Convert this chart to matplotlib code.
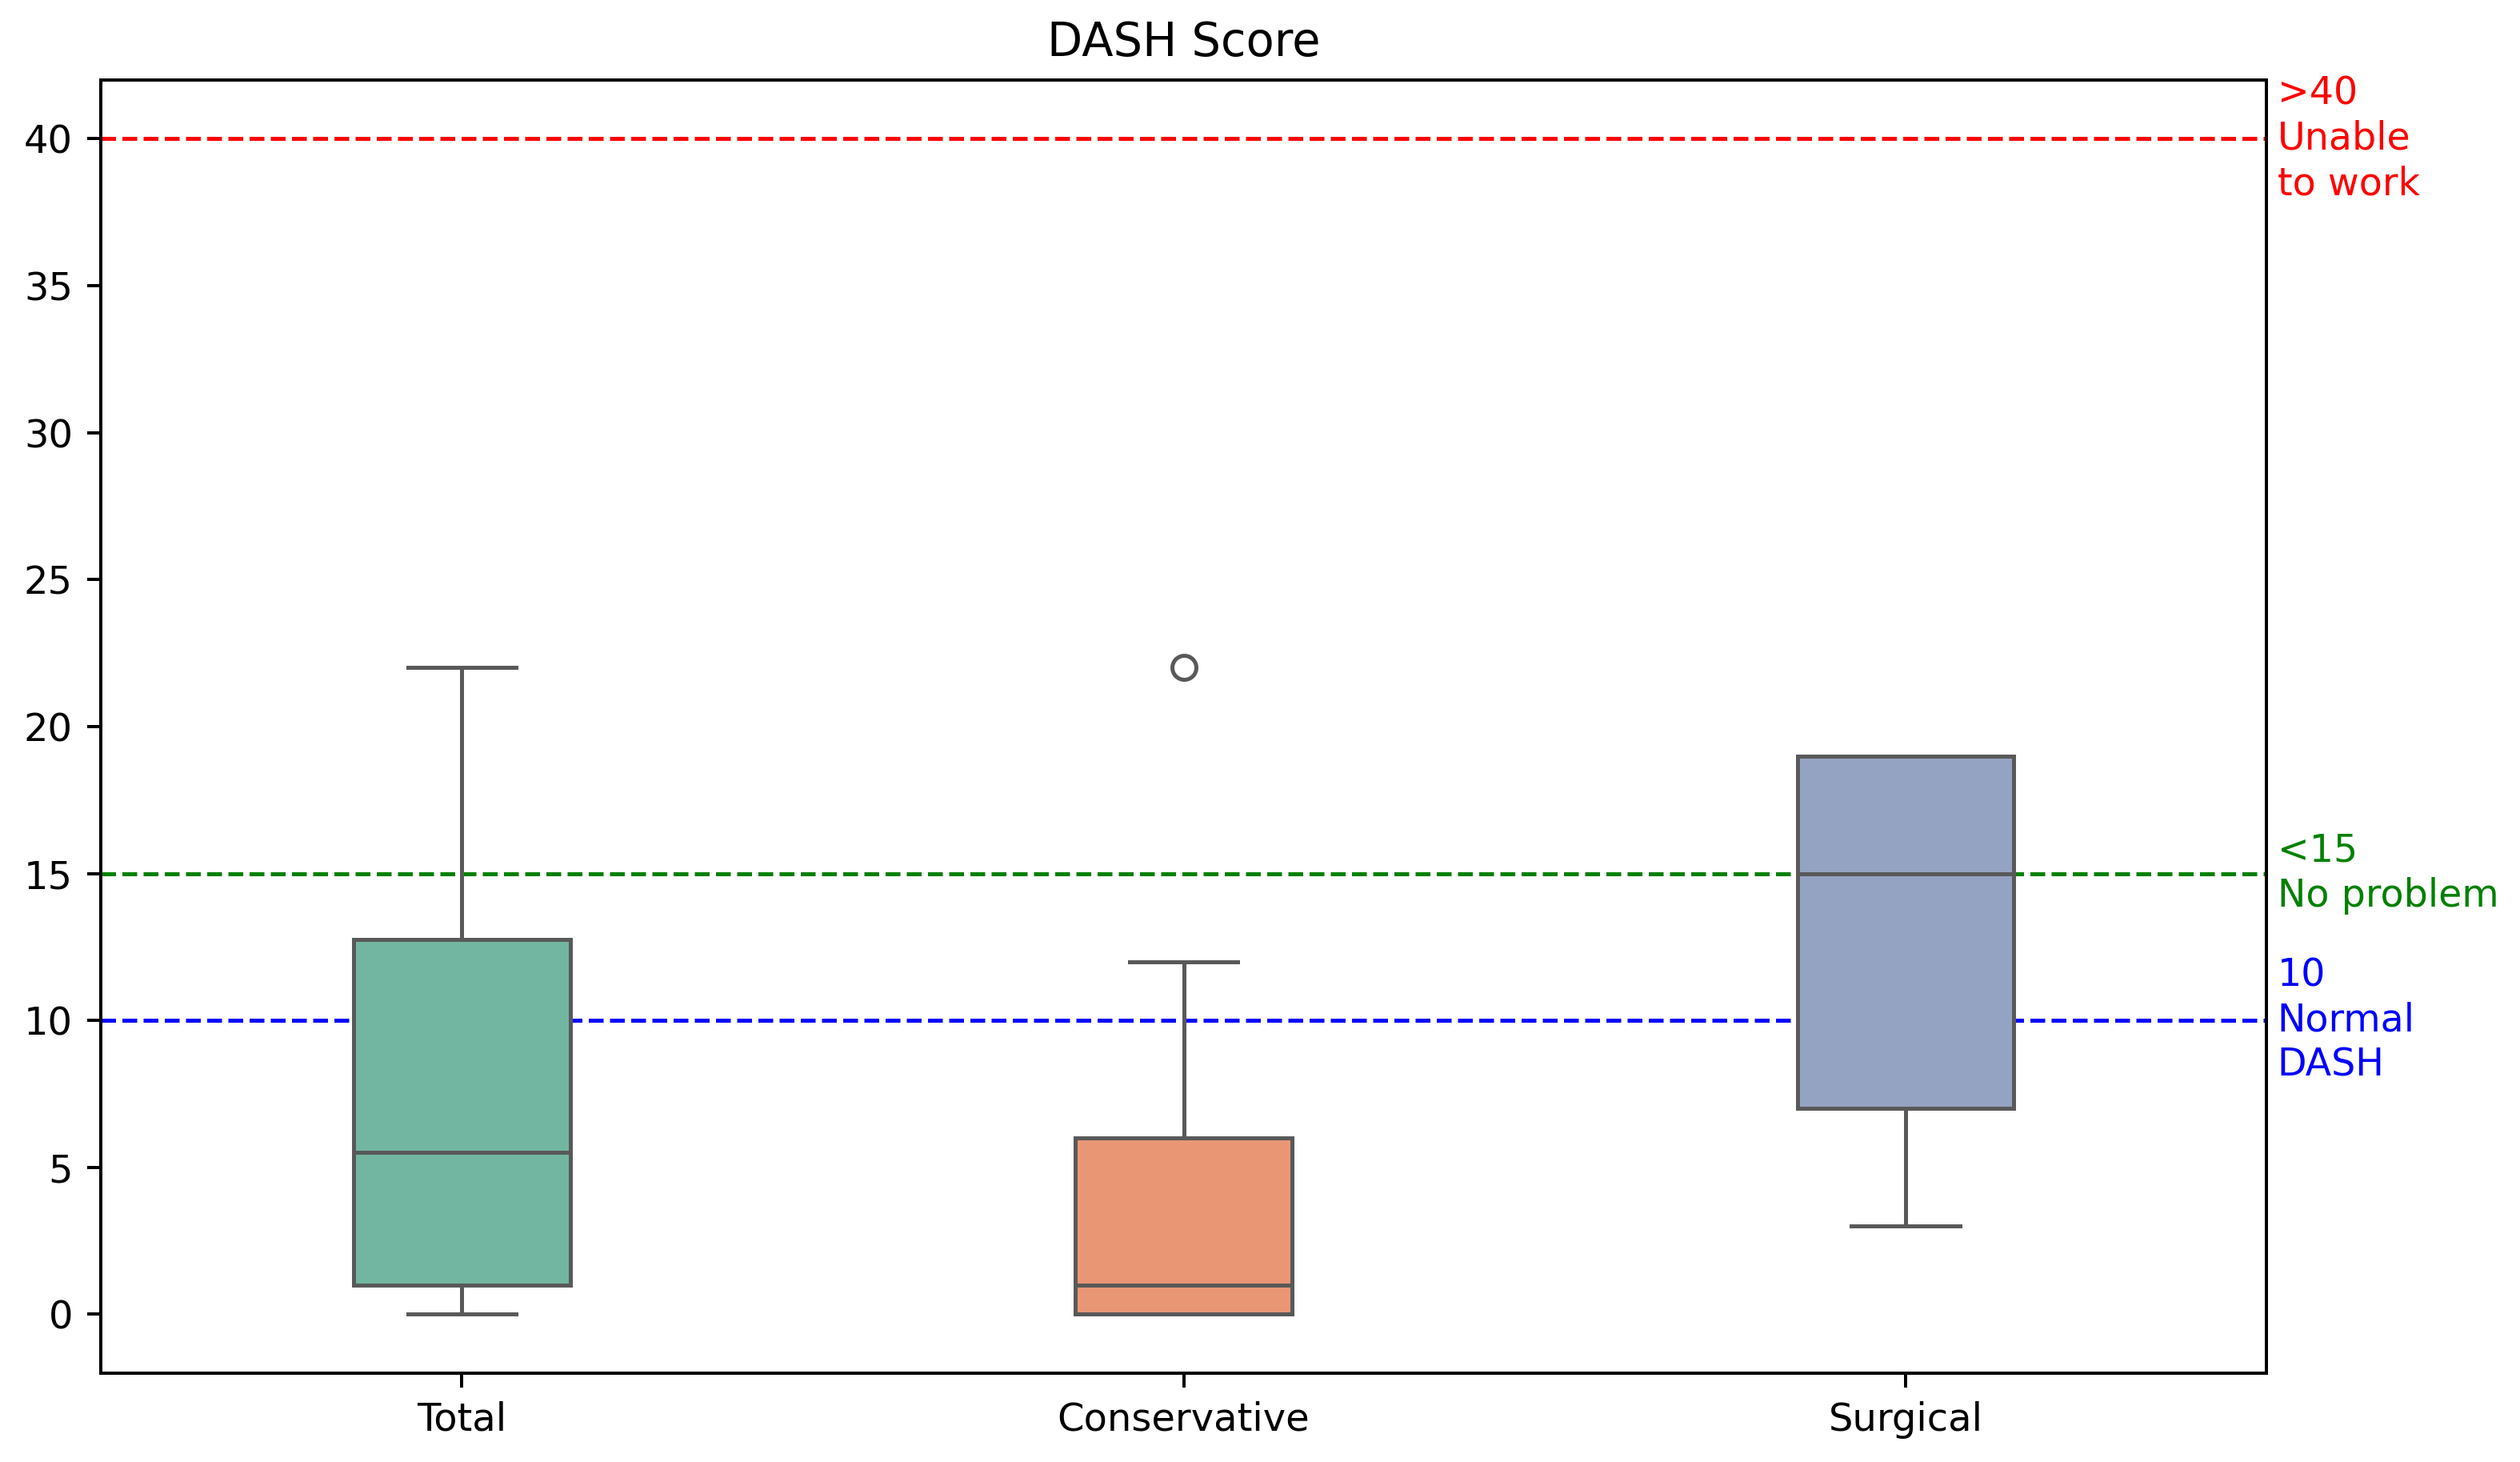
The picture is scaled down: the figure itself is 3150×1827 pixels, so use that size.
import matplotlib
matplotlib.use("Agg")
import matplotlib.pyplot as plt
import seaborn as sns

# === data ===
groups = ["Total", "Conservative", "Surgical"]
whis_lo = [0, 0, 3]
q1 = [1, 0, 7]
median = [5.5, 1, 15]
q3 = [12.75, 6, 19]
whis_hi = [22, 12, 19]
outliers = [[], [22], []]

ref_values = [40, 15, 10]
ref_labels = [">40\nUnable\nto work", "<15\nNo problem", "10\nNormal\nDASH"]
ref_colors = ["red", "green", "blue"]

# seaborn style box colours (Set2, desaturated 0.75)
box_colors = [sns.desaturate(c, 0.75) for c in sns.color_palette("Set2", 3)]
line_gray = "#595959"

stats = []
for i in range(len(groups)):
    stats.append({
        "label": groups[i],
        "whislo": whis_lo[i],
        "q1": q1[i],
        "med": median[i],
        "q3": q3[i],
        "whishi": whis_hi[i],
        "fliers": outliers[i],
    })

fig, ax = plt.subplots(figsize=(8.75, 5.075), dpi=360)
fig.subplots_adjust(left=0.04, right=0.8994, bottom=0.0608, top=0.9453)

positions = list(range(len(groups)))
bp = ax.bxp(
    stats,
    positions=positions,
    widths=0.3,
    capwidths=0.15,
    patch_artist=True,
    boxprops=dict(edgecolor=line_gray, linewidth=1),
    medianprops=dict(color=line_gray, linewidth=1),
    whiskerprops=dict(color=line_gray, linewidth=1),
    capprops=dict(color=line_gray, linewidth=1),
    flierprops=dict(marker="o", markerfacecolor="none",
                    markeredgecolor=line_gray, markersize=6),
    zorder=2,
)
for patch, c in zip(bp["boxes"], box_colors):
    patch.set_facecolor(c)

for val, lbl, col in zip(ref_values, ref_labels, ref_colors):
    ax.axhline(val, color=col, linestyle="--", linewidth=1, zorder=1)
    ax.text(1.005, val, lbl, color=col, fontsize=9.5, va="center", ha="left",
            linespacing=1.25, transform=ax.get_yaxis_transform())

ax.set_xlim(-0.5, 2.5)
ax.set_ylim(-2, 42)
ax.set_xticks(positions)
ax.set_xticklabels(groups)
ax.set_yticks(range(0, 41, 5))
ax.tick_params(labelsize=9.6)
ax.set_title("DASH Score", fontsize=11.5)

plt.savefig("out.png", dpi=360)
